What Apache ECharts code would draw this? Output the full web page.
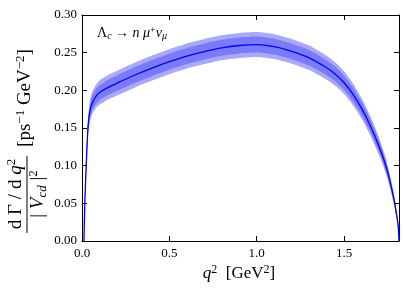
<!DOCTYPE html>
<html>
<head>
<meta charset="utf-8">
<script src="https://cdn.jsdelivr.net/npm/echarts@6/dist/echarts.min.js"></script>
<style>
html,body{margin:0;padding:0;background:#fff;}
#chart{width:407px;height:292px;}
</style>
</head>
<body>
<div id="chart"></div>
<script>
// q^2 values [GeV^2]
var q2 = [0.0112, 0.016, 0.024, 0.034, 0.045, 0.06, 0.08, 0.1, 0.15, 0.2, 0.3, 0.4, 0.5, 0.6, 0.7, 0.8, 0.9, 1.0, 1.1, 1.2, 1.3, 1.4, 1.45, 1.5, 1.55, 1.6, 1.65, 1.7, 1.735, 1.76, 1.785, 1.8, 1.808, 1.812, 1.8141];
// central dGamma/dq^2 / |Vcd|^2
var central = [0, 0.05, 0.10, 0.15, 0.172, 0.184, 0.192, 0.197, 0.204, 0.2095, 0.2200, 0.2295, 0.2380, 0.2455, 0.2515, 0.2565, 0.2595, 0.2608, 0.2580, 0.2518, 0.2432, 0.2300, 0.2215, 0.2100, 0.1950, 0.1760, 0.1530, 0.1255, 0.1025, 0.0815, 0.0555, 0.0355, 0.0225, 0.0120, 0];
// inner (dark) band half width
var innerErr = [0, 0.003, 0.006, 0.008, 0.009, 0.0095, 0.010, 0.010, 0.0102, 0.0104, 0.0106, 0.0107, 0.0107, 0.0107, 0.0106, 0.0105, 0.0105, 0.0105, 0.0105, 0.0104, 0.0103, 0.0100, 0.0098, 0.0095, 0.0092, 0.0088, 0.0082, 0.0074, 0.0066, 0.0057, 0.0045, 0.0033, 0.0024, 0.0015, 0];
// outer (light) band half width
var outerErr = [0, 0.005, 0.009, 0.012, 0.014, 0.015, 0.0155, 0.016, 0.0162, 0.0164, 0.0165, 0.0166, 0.0166, 0.0166, 0.0166, 0.0165, 0.0165, 0.0165, 0.0165, 0.0164, 0.0162, 0.0158, 0.0155, 0.0150, 0.0145, 0.0138, 0.0128, 0.0115, 0.0103, 0.0089, 0.0070, 0.0052, 0.0038, 0.0024, 0];
var xTicks = [0.0, 0.5, 1.0, 1.5];
var yTicks = [0.00, 0.05, 0.10, 0.15, 0.20, 0.25, 0.30];

var FONT = 'Liberation Serif';

var chart = echarts.init(document.getElementById('chart'), null, {renderer: 'canvas'});
var axisCommon = {
  z: 10,
  axisLine: {show: true, onZero: false, lineStyle: {color: '#000', width: 1}},
  axisTick: {show: true, inside: true, length: 5, lineStyle: {color: '#000', width: 1}},
  splitLine: {show: false}
};
function xAxis(pos, labels) {
  return Object.assign({
    type: 'value', position: pos, min: xTicks[0], max: q2[q2.length - 1], interval: 0.5,
    axisLabel: {show: labels, margin: 6, fontFamily: FONT, fontSize: 13, color: '#000',
      formatter: function (v) {
        for (var k = 0; k < xTicks.length; k++) if (Math.abs(v - xTicks[k]) < 1e-6) return xTicks[k].toFixed(1);
        return '';
      }}
  }, axisCommon);
}
function yAxis(pos, labels) {
  return Object.assign({
    type: 'value', position: pos, min: yTicks[0], max: yTicks[yTicks.length - 1], interval: 0.05,
    axisLabel: {show: labels, margin: 5, fontFamily: FONT, fontSize: 13, color: '#000',
      formatter: function (v) { return v.toFixed(2); }}
  }, axisCommon);
}
// band polygon drawn through the axes' coordinate conversion
function bandSeries(err, color, z) {
  return {
    type: 'custom', silent: true, z: z,
    data: [0],
    renderItem: function (params, api) {
      var pts = [];
      for (var i = 0; i < q2.length; i++) pts.push(api.coord([q2[i], central[i] + err[i]]));
      for (var j = q2.length - 2; j >= 1; j--) pts.push(api.coord([q2[j], central[j] - err[j]]));
      return {type: 'polygon', shape: {points: pts, smooth: 0.2}, style: {fill: color, stroke: null}};
    }
  };
}
var rich = {
  r: {fontFamily: FONT, fontSize: 19, lineHeight: 22, color: '#000'},
  i: {fontFamily: FONT, fontSize: 19, fontStyle: 'italic', lineHeight: 22, color: '#000'},
  sub: {fontFamily: FONT, fontSize: 13, fontStyle: 'italic', lineHeight: 12, verticalAlign: 'bottom', color: '#000'},
  sup: {fontFamily: FONT, fontSize: 13, lineHeight: 12, verticalAlign: 'top', color: '#000'}
};
var richX = {
  r: {fontFamily: FONT, fontSize: 17, lineHeight: 20, color: '#000'},
  i: {fontFamily: FONT, fontSize: 17, fontStyle: 'italic', lineHeight: 20, color: '#000'},
  sup: {fontFamily: FONT, fontSize: 12, lineHeight: 12, verticalAlign: 'top', color: '#000'}
};
var richSmall = {
  r: {fontFamily: FONT, fontSize: 14, lineHeight: 16, color: '#000'},
  i: {fontFamily: FONT, fontSize: 14, fontStyle: 'italic', lineHeight: 16, color: '#000'},
  sub: {fontFamily: FONT, fontSize: 10, fontStyle: 'italic', lineHeight: 9, verticalAlign: 'bottom', color: '#000'},
  sup: {fontFamily: FONT, fontSize: 10, lineHeight: 9, verticalAlign: 'top', color: '#000'}
};
var option = {
  animation: false,
  backgroundColor: '#fff',
  grid: {left: 82, top: 15, width: 317, height: 226, containLabel: false},
  xAxis: [xAxis('bottom', true), xAxis('top', false)],
  yAxis: [yAxis('left', true), yAxis('right', false)],
  series: [
    bandSeries(outerErr, '#a9a9fb', 2),
    bandSeries(innerErr, '#7b7bf8', 3),
    {type: 'line', symbol: 'none', smooth: 0.2, silent: true, z: 4,
      lineStyle: {color: '#0000ff', width: 1.3},
      data: q2.map(function (x, i) { return [x, central[i]]; })}
  ],
  graphic: [
    {type: 'text', x: 97, y: 33, z: 100, style: {
      text: '{r|Λ}{sub|c}{r| → }{i|n}{r| }{i|μ}{sup|+}{i|ν}{sub|μ}',
      rich: richSmall, align: 'left', verticalAlign: 'middle'}},
    {type: 'text', x: 239, y: 274, z: 100, style: {
      text: '{i|q}{sup|2}{r|  [GeV}{sup|2}{r|]}',
      rich: richX, align: 'center', verticalAlign: 'middle'}},
    {type: 'text', x: 16, y: 194, z: 100, rotation: Math.PI / 2, style: {
      text: '{r|d Γ / d}{i| q}{sup|2}',
      rich: rich, align: 'center', verticalAlign: 'middle'}},
    {type: 'line', z: 100, shape: {x1: 27, y1: 156, x2: 27, y2: 233}, style: {stroke: '#000', lineWidth: 1}},
    {type: 'text', x: 38, y: 194, z: 100, rotation: Math.PI / 2, style: {
      text: '{r|| }{i|V}{sub|cd}{r| |}{sup|2}',
      rich: rich, align: 'center', verticalAlign: 'middle'}},
    {type: 'text', x: 25, y: 98, z: 100, rotation: Math.PI / 2, style: {
      text: '{r|[ps}{sup|−1}{r| GeV}{sup|−2}{r|]}',
      rich: rich, align: 'center', verticalAlign: 'middle'}}
  ]
};
chart.setOption(option);
</script>
</body>
</html>
